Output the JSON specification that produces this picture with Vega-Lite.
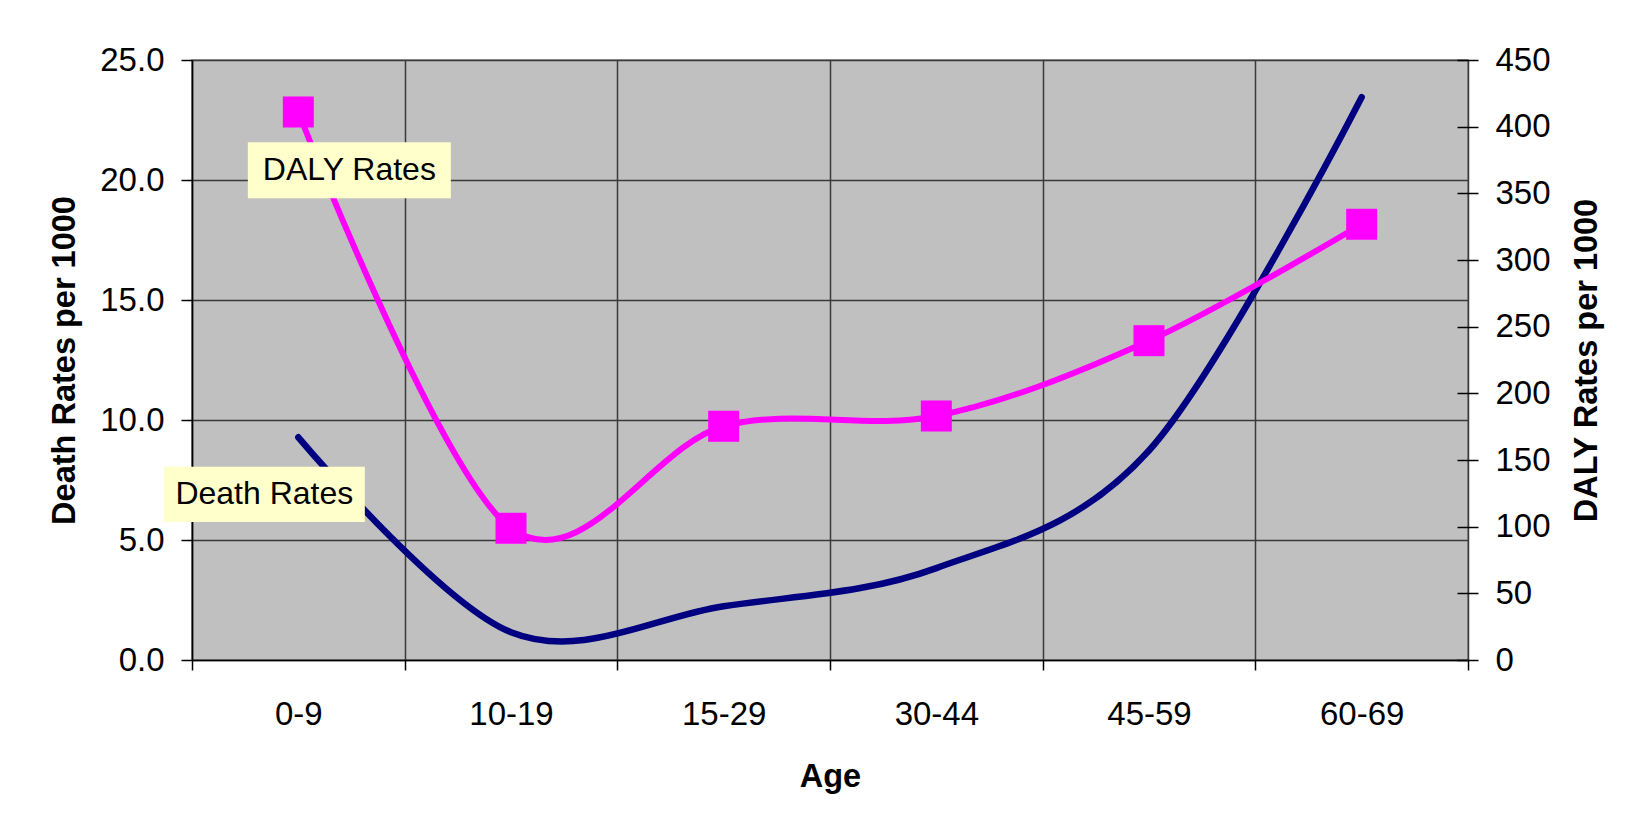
{
  "$schema": "https://vega.github.io/schema/vega-lite/v6.json",
  "width": 1276,
  "height": 600,
  "autosize": {"type": "none"},
  "padding": {"left": 192, "top": 60, "right": 168, "bottom": 162},
  "background": "#FFFFFF",
  "config": {
    "font": "Liberation Sans",
    "view": {"fill": "#C0C0C0", "stroke": "#808080", "strokeWidth": 1.5},
    "axis": {
      "labelFont": "Liberation Sans",
      "titleFont": "Liberation Sans",
      "labelColor": "#000000",
      "titleColor": "#000000",
      "labelFontSize": 33,
      "titleFontSize": 32.5,
      "titleFontWeight": "bold",
      "gridColor": "#3a3a3a",
      "gridWidth": 1.5,
      "gridOpacity": 1,
      "tickColor": "#000000",
      "tickWidth": 1.5,
      "domainColor": "#000000",
      "domainWidth": 1.5
    }
  },
  "datasets": {
    "rates": [
      {"age": "0-9", "death": 9.28, "daly": 411},
      {"age": "10-19", "death": 1.16, "daly": 98.8},
      {"age": "15-29", "death": 2.24, "daly": 175.3},
      {"age": "30-44", "death": 3.83, "daly": 183},
      {"age": "45-59", "death": 8.73, "daly": 239.5},
      {"age": "60-69", "death": 23.45, "daly": 326.8}
    ]
  },
  "data": {"name": "rates"},
  "encoding": {
    "x": {
      "field": "age",
      "type": "ordinal",
      "bandPosition": 0.5,
      "scale": {
        "type": "band",
        "domain": ["0-9", "10-19", "15-29", "30-44", "45-59", "60-69"],
        "paddingInner": 0,
        "paddingOuter": 0
      },
      "axis": {
        "title": "Age",
        "tickBand": "extent",
        "grid": true,
        "labelAngle": 0,
        "tickSize": 10,
        "labelPadding": 28,
        "titlePadding": 29
      }
    }
  },
  "layer": [
    {
      "encoding": {
        "y": {
          "field": "death",
          "type": "quantitative",
          "scale": {"domain": [0, 25], "nice": false},
          "axis": {
            "title": "Death Rates per 1000",
            "orient": "left",
            "values": [0, 5, 10, 15, 20, 25],
            "format": ".1f",
            "tickSize": 11,
            "labelPadding": 17,
            "titlePadding": 18,
            "grid": true
          }
        }
      },
      "layer": [
        {
          "mark": {"type": "line", "interpolate": "cardinal", "tension": 0, "color": "#000080", "strokeWidth": 6.5, "strokeCap": "round", "strokeJoin": "round"}
        },
        {
          "data": {"values": [{"age": "0-9", "label": "Death Rates", "death": 6.9}]},
          "mark": {"type": "point", "shape": "M-1,-0.275H1V0.275H-1Z", "size": 40401, "filled": true, "fill": "#FFFFCC", "opacity": 1, "strokeWidth": 0, "xOffset": -34}
        },
        {
          "data": {"values": [{"age": "0-9", "label": "Death Rates", "death": 6.9}]},
          "mark": {"type": "text", "font": "Liberation Sans", "fontSize": 32, "color": "#000000", "align": "center", "baseline": "middle", "xOffset": -34},
          "encoding": {"text": {"field": "label"}}
        }
      ]
    },
    {
      "encoding": {
        "y": {
          "field": "daly",
          "type": "quantitative",
          "scale": {"domain": [0, 450], "nice": false},
          "axis": {
            "title": "DALY Rates per 1000",
            "orient": "right",
            "values": [0, 50, 100, 150, 200, 250, 300, 350, 400, 450],
            "format": "d",
            "tickSize": 21,
            "offset": -11,
            "domain": false,
            "grid": false,
            "labelPadding": 17,
            "titleAngle": 270,
            "titleBaseline": "top",
            "titlePadding": 20
          }
        }
      },
      "layer": [
        {
          "mark": {"type": "line", "interpolate": "cardinal", "tension": 0, "color": "#FF00FF", "strokeWidth": 6, "strokeCap": "round", "strokeJoin": "round"}
        },
        {
          "mark": {"type": "point", "shape": "square", "size": 961, "filled": true, "color": "#FF00FF", "opacity": 1}
        },
        {
          "data": {"values": [{"age": "0-9", "label": "DALY Rates", "daly": 367.3}]},
          "mark": {"type": "point", "shape": "M-1,-0.275H1V0.275H-1Z", "size": 41209, "filled": true, "fill": "#FFFFCC", "opacity": 1, "strokeWidth": 0, "xOffset": 51}
        },
        {
          "data": {"values": [{"age": "0-9", "label": "DALY Rates", "daly": 367.3}]},
          "mark": {"type": "text", "font": "Liberation Sans", "fontSize": 32, "color": "#000000", "align": "center", "baseline": "middle", "xOffset": 51},
          "encoding": {"text": {"field": "label"}}
        }
      ]
    }
  ],
  "resolve": {"scale": {"y": "independent"}}
}
